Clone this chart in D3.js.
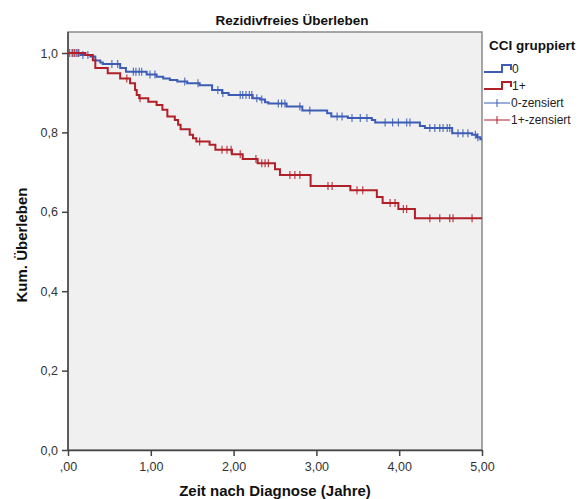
<!DOCTYPE html>
<html>
<head>
<meta charset="utf-8">
<script src="https://cdn.jsdelivr.net/npm/d3@7"></script>
<style>
  html, body { margin: 0; padding: 0; background: #ffffff; }
  svg { display: block; }
  text { font-family: "Liberation Sans", Arial, sans-serif; }
</style>
</head>
<body>
<svg id="chart" width="588" height="499"></svg>
<script>
// Kaplan-Meier step data: times (years) of each drop and the survival after the drop
const group0Times = [0, 0.15, 0.27, 0.33, 0.39, 0.42, 0.63, 0.70, 0.95, 1.07, 1.15, 1.23, 1.32, 1.44, 1.59, 1.74, 1.86, 1.94, 2.23, 2.32, 2.38, 2.42, 2.64, 2.83, 3.13, 3.18, 3.38, 3.67, 3.71, 4.25, 4.31, 4.64, 4.88, 4.94, 4.98];
const group0Surv  = [1.0, 0.995, 0.991, 0.981, 0.976, 0.972, 0.962, 0.953, 0.946, 0.940, 0.936, 0.932, 0.928, 0.924, 0.919, 0.907, 0.899, 0.894, 0.886, 0.883, 0.876, 0.873, 0.865, 0.855, 0.848, 0.840, 0.836, 0.831, 0.825, 0.816, 0.811, 0.798, 0.794, 0.788, 0.783];
const group0Censored = [0.02, 0.06, 0.10, 0.13, 0.18, 0.24, 0.53, 0.60, 0.79, 0.82, 0.86, 0.89, 0.99, 1.05, 1.41, 1.57, 1.81, 1.87, 2.08, 2.11, 2.15, 2.19, 2.22, 2.28, 2.34, 2.54, 2.58, 2.62, 2.80, 2.92, 3.25, 3.31, 3.43, 3.53, 3.61, 3.83, 3.92, 3.99, 4.09, 4.13, 4.37, 4.43, 4.49, 4.53, 4.58, 4.61, 4.71, 4.77, 4.83, 4.92, 4.95];

const group1Times = [0, 0.21, 0.30, 0.33, 0.48, 0.63, 0.75, 0.81, 0.83, 0.86, 0.97, 1.07, 1.14, 1.20, 1.29, 1.33, 1.36, 1.47, 1.51, 1.55, 1.71, 1.78, 1.98, 2.11, 2.29, 2.50, 2.56, 2.93, 3.41, 3.73, 3.80, 3.99, 4.19];
const group1Surv  = [1.0, 0.995, 0.982, 0.962, 0.949, 0.936, 0.924, 0.907, 0.894, 0.886, 0.877, 0.869, 0.857, 0.840, 0.831, 0.819, 0.808, 0.794, 0.785, 0.777, 0.769, 0.756, 0.745, 0.733, 0.722, 0.707, 0.693, 0.665, 0.654, 0.637, 0.622, 0.607, 0.584];
const group1Censored = [0.05, 0.08, 0.12, 0.71, 0.87, 1.59, 1.86, 1.92, 1.97, 2.08, 2.27, 2.34, 2.38, 2.42, 2.68, 2.74, 2.80, 3.14, 3.19, 3.49, 3.56, 3.89, 3.95, 4.05, 4.09, 4.37, 4.49, 4.61, 4.65, 4.88];

const xTicks = [0, 1, 2, 3, 4, 5];
const xTickLabels = [",00", "1,00", "2,00", "3,00", "4,00", "5,00"];
const yTicks = [0, 0.2, 0.4, 0.6, 0.8, 1.0];
const yTickLabels = ["0,0", "0,2", "0,4", "0,6", "0,8", "1,0"];
const legendLabels = ["0", "1+", "0-zensiert", "1+-zensiert"];

const colors = { g0: "#3c5cb6", g1: "#b11f28" };

const svg = d3.select("#chart");
const plot = { left: 68, right: 482, top: 32, bottom: 450 };

const x = d3.scaleLinear().domain([0, 5]).range([plot.left, plot.right]);
const y = d3.scaleLinear().domain([0, 1]).range([plot.bottom, 53]);

// plot background and frame
svg.append("rect")
  .attr("x", plot.left).attr("y", plot.top)
  .attr("width", plot.right - plot.left).attr("height", plot.bottom - plot.top)
  .attr("fill", "#f0f0f0")
  .attr("stroke", "#8a8a8a").attr("stroke-width", 1.5);

// title
svg.append("text")
  .attr("x", 292).attr("y", 25)
  .attr("text-anchor", "middle")
  .attr("font-size", 13.5).attr("font-weight", "bold")
  .attr("fill", "#111")
  .text("Rezidivfreies Überleben");

// axes
const xAxis = d3.axisBottom(x).tickValues(xTicks)
  .tickFormat((d, i) => xTickLabels[i]).tickSize(6).tickSizeOuter(0);
const gx = svg.append("g").attr("transform", `translate(0,${plot.bottom})`).call(xAxis);
gx.select(".domain").attr("stroke", "#444").attr("stroke-width", 1.5);
gx.selectAll(".tick line").attr("stroke", "#444").attr("stroke-width", 1.5);
gx.selectAll(".tick text").attr("font-size", 12.5).attr("fill", "#333")
  .attr("font-family", "Liberation Sans, Arial, sans-serif").attr("dy", "0.95em");

const yAxis = d3.axisLeft(y).tickValues(yTicks)
  .tickFormat((d, i) => yTickLabels[i]).tickSize(6).tickSizeOuter(0);
const gy = svg.append("g").attr("transform", `translate(${plot.left},0)`).call(yAxis);
gy.select(".domain").attr("d", `M0,${plot.top}V${plot.bottom}`)
  .attr("stroke", "#444").attr("stroke-width", 1.5);
gy.selectAll(".tick line").attr("stroke", "#444").attr("stroke-width", 1.5);
gy.selectAll(".tick text").attr("font-size", 12.5).attr("fill", "#333")
  .attr("font-family", "Liberation Sans, Arial, sans-serif").attr("x", -10);

// axis titles
svg.append("text")
  .attr("x", 275).attr("y", 496)
  .attr("text-anchor", "middle")
  .attr("font-size", 15).attr("font-weight", "bold").attr("fill", "#111")
  .text("Zeit nach Diagnose (Jahre)");

svg.append("text")
  .attr("transform", "translate(27,245) rotate(-90)")
  .attr("text-anchor", "middle")
  .attr("font-size", 15).attr("font-weight", "bold").attr("fill", "#111")
  .text("Kum. Überleben");

// survival curves
const stepLine = d3.line().x(d => x(d[0])).y(d => y(d[1])).curve(d3.curveStepAfter);

function curvePoints(times, surv) {
  const pts = times.map((t, i) => [t, surv[i]]);
  pts.push([5, surv[surv.length - 1]]);
  return pts;
}
function survAt(times, surv, t) {
  const i = d3.bisectRight(times, t) - 1;
  return surv[Math.max(0, i)];
}

const groups = [
  { times: group0Times, surv: group0Surv, cens: group0Censored, color: colors.g0 },
  { times: group1Times, surv: group1Surv, cens: group1Censored, color: colors.g1 }
];

groups.forEach(g => {
  svg.append("path")
    .datum(curvePoints(g.times, g.surv))
    .attr("d", stepLine)
    .attr("fill", "none")
    .attr("stroke", g.color)
    .attr("stroke-width", 2);

  svg.append("g").selectAll("line")
    .data(g.cens)
    .join("line")
    .attr("x1", d => x(d)).attr("x2", d => x(d))
    .attr("y1", d => y(survAt(g.times, g.surv, d)) - 4)
    .attr("y2", d => y(survAt(g.times, g.surv, d)) + 4)
    .attr("stroke", g.color)
    .attr("stroke-width", 1.2)
    .attr("opacity", 0.85);
});

// legend
const lx = 484;
svg.append("text")
  .attr("x", lx + 5).attr("y", 50)
  .attr("font-size", 13.5).attr("font-weight", "bold").attr("fill", "#111")
  .text("CCI gruppiert");

const stepItems = [
  { label: legendLabels[0], color: colors.g0, base: 73 },
  { label: legendLabels[1], color: colors.g1, base: 90 }
];
stepItems.forEach(it => {
  const yl = it.base - 1, yh = it.base - 8;
  svg.append("path")
    .attr("d", `M${lx},${yl}H${lx + 18}V${yh}H${lx + 27}V${yl - 2}`)
    .attr("fill", "none").attr("stroke", it.color).attr("stroke-width", 2);
  svg.append("text")
    .attr("x", lx + 28).attr("y", it.base)
    .attr("font-size", 12).attr("fill", "#222")
    .text(it.label);
});

const censItems = [
  { label: legendLabels[2], color: colors.g0, base: 107 },
  { label: legendLabels[3], color: colors.g1, base: 124 }
];
censItems.forEach(it => {
  const yc = it.base - 4;
  svg.append("line")
    .attr("x1", lx).attr("x2", lx + 26).attr("y1", yc).attr("y2", yc)
    .attr("stroke", it.color).attr("stroke-width", 1);
  svg.append("line")
    .attr("x1", lx + 13).attr("x2", lx + 13).attr("y1", yc - 4).attr("y2", yc + 4)
    .attr("stroke", it.color).attr("stroke-width", 1);
  svg.append("text")
    .attr("x", lx + 27).attr("y", it.base)
    .attr("font-size", 12).attr("fill", "#222")
    .text(it.label);
});
</script>
</body>
</html>
